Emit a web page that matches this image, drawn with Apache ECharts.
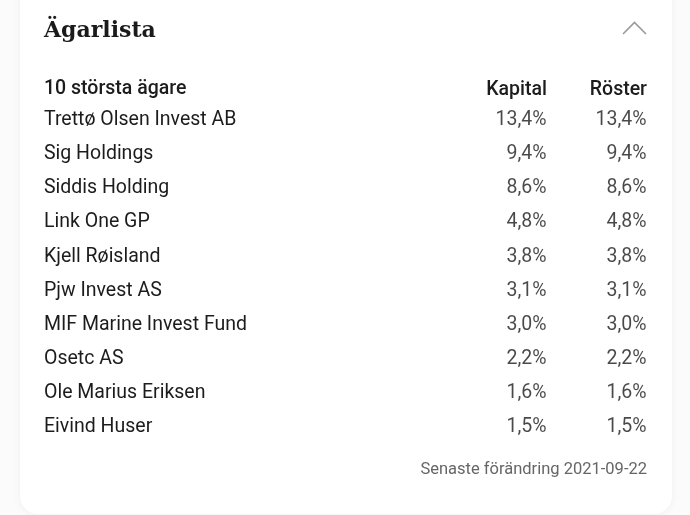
<!DOCTYPE html>
<html>
<head>
<meta charset="utf-8">
<script src="https://cdn.jsdelivr.net/npm/echarts@6/dist/echarts.min.js"></script>
<style>
html,body{margin:0;padding:0;background:#fbfbfb;}
#c{width:690px;height:515px;}
</style>
</head>
<body>
<div id="c"></div>
<script>
var titleText = 'Ägarlista';
var headerText = '10 största ägare';
var columns = ['Kapital', 'Röster'];
var owners = ['Trettø Olsen Invest AB', 'Sig Holdings', 'Siddis Holding', 'Link One GP', 'Kjell Røisland', 'Pjw Invest AS', 'MIF Marine Invest Fund', 'Osetc AS', 'Ole Marius Eriksen', 'Eivind Huser'];
var kapital = [13.4, 9.4, 8.6, 4.8, 3.8, 3.1, 3.0, 2.2, 1.6, 1.5];
var roster = [13.4, 9.4, 8.6, 4.8, 3.8, 3.1, 3.0, 2.2, 1.6, 1.5];
var footerText = 'Senaste förändring 2021-09-22';

var FONT = 'Roboto, "Noto Sans", sans-serif';
var TXT = '#1c1c1c';
var FS = 19.5;
function fmt(v){ return v.toFixed(1).replace('.', ',') + '%'; }
function colSeries(name, colIdx, values){
  return {
    name: name, type: 'scatter', symbolSize: 1,
    itemStyle: {color: 'rgba(0,0,0,0)'},
    data: values.map(function(v, i){ return [colIdx, i, v]; }),
    label: {
      show: true, position: 'left', distance: 0,
      formatter: function(p){ return fmt(p.value[2]); },
      color: TXT, fontSize: FS, fontFamily: FONT, align: 'right', verticalAlign: 'middle'
    },
    emphasis: {disabled: true}, silent: true
  };
}
var chart = echarts.init(document.getElementById('c'), null, {renderer: 'canvas'});
chart.setOption({
  backgroundColor: '#fbfbfb',
  animation: false,
  title: [
    {text: titleText, left: 44, top: 20, padding: 0,
     textStyle: {fontFamily: '"DejaVu Serif", serif', fontWeight: 'bold', fontSize: 22, color: '#1a1a1a'}},
    {text: footerText, right: 43, top: 461, padding: 0,
     textStyle: {fontFamily: FONT, fontWeight: 'normal', fontSize: 16.5, color: '#666666'}}
  ],
  graphic: [
    {type: 'rect', z: -10, shape: {x: 20, y: -30, width: 652, height: 544, r: 18},
     style: {fill: '#ffffff', shadowBlur: 8, shadowColor: 'rgba(0,0,0,0.05)'}},
    {type: 'polyline', z: 10, shape: {points: [[623, 34], [634.5, 22.5], [646, 34]]},
     style: {stroke: '#9a9a9a', lineWidth: 1.6, fill: null}},
    {type: 'text', z: 10, left: 44, top: 79.5,
     style: {text: headerText, font: '500 ' + FS + 'px ' + FONT, fill: TXT}}
  ],
  grid: {left: 547, right: 43, top: 102.9, height: 341.7},
  xAxis: {
    type: 'category', data: columns, position: 'top', boundaryGap: false,
    axisLine: {show: false}, axisTick: {show: false}, splitLine: {show: false},
    axisLabel: {interval: 0, showMinLabel: true, showMaxLabel: true, align: 'right',
      verticalAlign: 'middle', margin: 13, color: TXT, fontSize: FS, fontWeight: 500, fontFamily: FONT}
  },
  yAxis: {
    type: 'category', data: owners, inverse: true,
    axisLine: {show: false}, axisTick: {show: false}, splitLine: {show: false},
    axisLabel: {interval: 0, align: 'left', margin: 503, color: TXT, fontSize: FS, fontFamily: FONT, verticalAlign: 'middle'}
  },
  series: [colSeries('Kapital', 0, kapital), colSeries('Röster', 1, roster)]
});
</script>
</body>
</html>
